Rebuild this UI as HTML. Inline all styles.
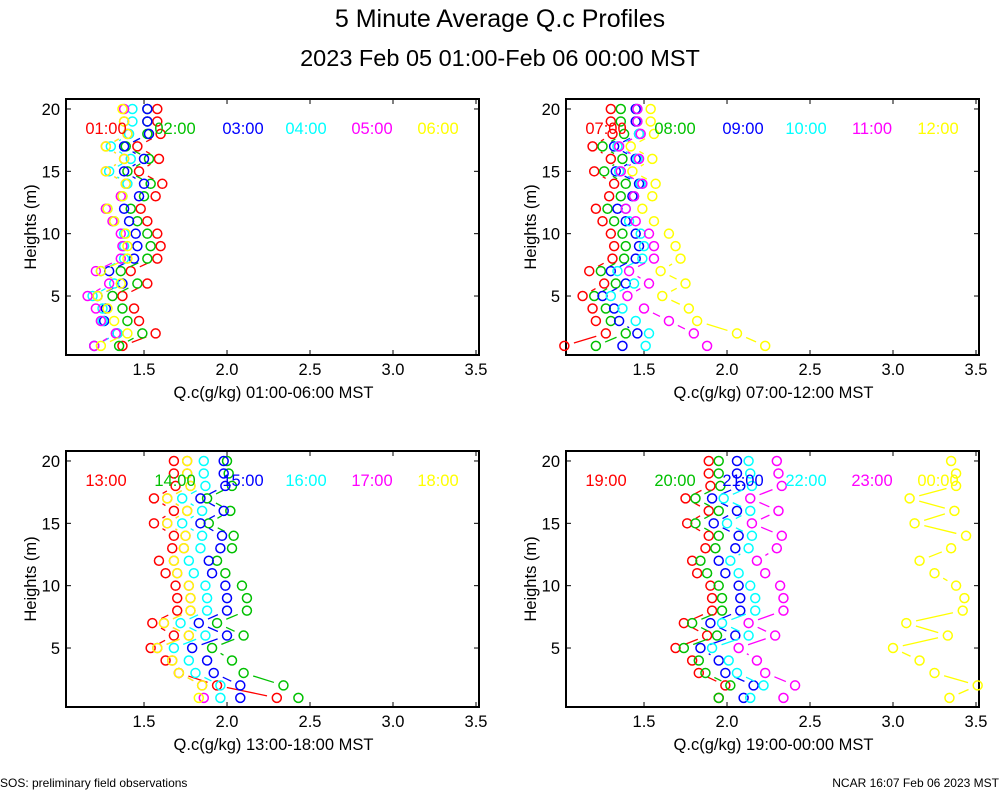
<!DOCTYPE html>
<html><head><meta charset="utf-8"><style>
html,body{margin:0;padding:0;background:#fff;}
svg{display:block;font-family:"Liberation Sans",sans-serif;}
</style></head><body>
<svg id="chart" width="1000" height="800" viewBox="0 0 1000 800" xmlns="http://www.w3.org/2000/svg">
<text x="500" y="27" font-size="25" text-anchor="middle">5 Minute Average Q.c Profiles</text>
<text x="500" y="66" font-size="23.5" text-anchor="middle">2023 Feb 05 01:00-Feb 06 00:00 MST</text>
<text x="0" y="787" font-size="12">SOS: preliminary field observations</text>
<text x="999" y="787" font-size="12" text-anchor="end">NCAR 16:07 Feb 06 2023 MST</text>
</svg>
<script>
const heights = [1,2,3,4,5,6,7,8,9,10,11,12,13,14,15,16,17,18,19,20];
const xTicks = [1.5,2.0,2.5,3.0,3.5];
const xTickLabels = ["1.5","2.0","2.5","3.0","3.5"];
const yTicks = [5,10,15,20];
const yTickLabels = ["5","10","15","20"];
const seriesColors = ["#ff0000","#00c000","#0000ff","#00ffff","#ff00ff","#ffff00"];
const panelTitles = ["Q.c(g/kg) 01:00-06:00 MST","Q.c(g/kg) 07:00-12:00 MST","Q.c(g/kg) 13:00-18:00 MST","Q.c(g/kg) 19:00-00:00 MST"];
const panelLabels = [["01:00","02:00","03:00","04:00","05:00","06:00"],["07:00","08:00","09:00","10:00","11:00","12:00"],["13:00","14:00","15:00","16:00","17:00","18:00"],["19:00","20:00","21:00","22:00","23:00","00:00"]];

const p1_0100 = [1.37,1.57,1.47,1.44,1.37,1.52,1.42,1.58,1.60,1.58,1.52,1.48,1.57,1.61,1.47,1.59,1.46,1.60,1.58,1.58];
const p1_0200 = [1.35,1.49,1.40,1.37,1.31,1.46,1.36,1.52,1.54,1.52,1.46,1.42,1.50,1.54,1.40,1.53,1.39,1.52,1.52,1.52];
const p1_0300 = [1.20,1.34,1.26,1.27,1.22,1.37,1.29,1.44,1.46,1.45,1.41,1.38,1.47,1.50,1.38,1.50,1.38,1.53,1.52,1.52];
const p1_0400 = [1.20,1.34,1.25,1.25,1.19,1.32,1.24,1.38,1.38,1.38,1.32,1.28,1.37,1.40,1.29,1.42,1.30,1.41,1.43,1.43];
const p1_0500 = [1.20,1.33,1.24,1.21,1.16,1.29,1.21,1.36,1.37,1.36,1.31,1.27,1.36,1.39,1.27,1.38,1.27,1.40,1.38,1.38];
const p1_0600 = [1.24,1.40,1.32,1.28,1.22,1.36,1.24,1.40,1.40,1.39,1.32,1.28,1.37,1.39,1.27,1.38,1.27,1.40,1.38,1.37];

const p2_0700 = [1.02,1.27,1.21,1.19,1.13,1.26,1.17,1.31,1.32,1.30,1.25,1.21,1.29,1.32,1.20,1.30,1.19,1.31,1.30,1.30];
const p2_0800 = [1.21,1.39,1.30,1.27,1.20,1.33,1.24,1.38,1.39,1.37,1.32,1.28,1.36,1.39,1.26,1.37,1.25,1.38,1.36,1.36];
const p2_0900 = [1.37,1.46,1.35,1.32,1.25,1.39,1.30,1.45,1.47,1.45,1.39,1.34,1.43,1.47,1.33,1.45,1.32,1.47,1.45,1.45];
const p2_1000 = [1.51,1.53,1.45,1.37,1.30,1.44,1.34,1.49,1.50,1.48,1.41,1.39,1.44,1.48,1.35,1.46,1.34,1.47,1.46,1.46];
const p2_1100 = [1.88,1.80,1.65,1.50,1.40,1.53,1.41,1.56,1.56,1.53,1.45,1.39,1.44,1.49,1.36,1.47,1.35,1.48,1.46,1.46];
const p2_1200 = [2.23,2.06,1.82,1.77,1.61,1.75,1.60,1.72,1.69,1.65,1.56,1.49,1.55,1.57,1.43,1.55,1.42,1.56,1.54,1.54];

const p3_1300 = [2.30,1.94,1.71,1.63,1.54,1.68,1.55,1.70,1.70,1.69,1.63,1.59,1.67,1.68,1.56,1.68,1.56,1.69,1.68,1.68];
const p3_1400 = [2.43,2.34,2.10,2.03,1.91,2.10,1.94,2.12,2.12,2.09,1.99,1.94,2.03,2.04,1.89,2.02,1.88,2.03,2.01,2.00];
const p3_1500 = [2.08,2.08,1.92,1.88,1.79,2.00,1.83,2.00,2.00,1.99,1.91,1.89,1.96,1.97,1.84,1.98,1.84,1.99,1.98,1.98];
const p3_1600 = [1.96,1.96,1.81,1.77,1.68,1.87,1.72,1.88,1.88,1.87,1.80,1.77,1.84,1.85,1.73,1.85,1.73,1.87,1.86,1.86];
const p3_1700 = [1.86,1.85,1.71,1.67,1.58,1.77,1.62,1.78,1.78,1.77,1.70,1.68,1.74,1.75,1.64,1.76,1.64,1.78,1.76,1.76];
const p3_1800 = [1.83,1.85,1.71,1.67,1.58,1.77,1.62,1.78,1.78,1.77,1.70,1.68,1.74,1.75,1.64,1.76,1.64,1.78,1.76,1.76];

const p4_1900 = [1.95,1.99,1.83,1.79,1.69,1.88,1.74,1.91,1.91,1.90,1.82,1.79,1.87,1.89,1.76,1.89,1.75,1.90,1.89,1.89];
const p4_2000 = [1.95,2.02,1.87,1.83,1.74,1.94,1.79,1.97,1.97,1.95,1.88,1.84,1.93,1.95,1.81,1.95,1.81,1.96,1.95,1.95];
const p4_2100 = [2.10,2.16,1.99,1.95,1.84,2.05,1.90,2.08,2.08,2.07,1.99,1.95,2.05,2.07,1.92,2.06,1.91,2.08,2.06,2.06];
const p4_2200 = [2.14,2.22,2.06,2.01,1.91,2.13,1.97,2.17,2.17,2.14,2.07,2.02,2.13,2.15,2.00,2.14,1.98,2.15,2.14,2.13];
const p4_2300 = [2.34,2.41,2.23,2.18,2.07,2.29,2.13,2.34,2.34,2.32,2.23,2.18,2.30,2.33,2.15,2.31,2.14,2.33,2.31,2.30];
const p4_0000 = [3.34,3.51,3.25,3.16,3.00,3.33,3.08,3.42,3.43,3.38,3.25,3.16,3.35,3.44,3.13,3.37,3.10,3.38,3.38,3.35];

const panelSeries = [
  [p1_0100,p1_0200,p1_0300,p1_0400,p1_0500,p1_0600],
  [p2_0700,p2_0800,p2_0900,p2_1000,p2_1100,p2_1200],
  [p3_1300,p3_1400,p3_1500,p3_1600,p3_1700,p3_1800],
  [p4_1900,p4_2000,p4_2100,p4_2200,p4_2300,p4_0000]
];

const NS = "http://www.w3.org/2000/svg";
const svg = document.getElementById("chart");
const X_MIN = 1.03, X_MAX = 3.518, Y_MIN = 0.27, Y_MAX = 20.8;
const PW = 413, PH = 256;
const origins = [[66,99],[566,99],[66,451],[566,451]];
const legendX = [106,175,243,306,372,438];

function mk(tag, attrs, parent) {
  const e = document.createElementNS(NS, tag);
  for (const k in attrs) e.setAttribute(k, attrs[k]);
  (parent || svg).appendChild(e);
  return e;
}

panelSeries.forEach((series, p) => {
  const ox = origins[p][0], oy = origins[p][1];
  const sx = v => ox + (v - X_MIN) / (X_MAX - X_MIN) * PW;
  const sy = h => oy + (Y_MAX - h) / (Y_MAX - Y_MIN) * PH;
  const g = mk("g", {});
  
  

  const frame = mk("rect", {x: ox, y: oy, width: PW, height: PH, fill: "none", stroke: "#000", "stroke-width": 2}, g);
  
  

  xTicks.forEach((t, i) => {
    const x = sx(t);
    mk("line", {x1: x, y1: oy + PH, x2: x, y2: oy + PH - 5, stroke: "#000", "stroke-width": 1}, g);
    mk("line", {x1: x, y1: oy, x2: x, y2: oy + 5, stroke: "#000", "stroke-width": 1}, g);
    const lbl = mk("text", {x: x, y: oy + PH + 20, "font-size": 16.5, "text-anchor": "middle"}, g);
    lbl.textContent = xTickLabels[i];
    
    
  });
  yTicks.forEach((t, i) => {
    const y = sy(t);
    mk("line", {x1: ox, y1: y, x2: ox + 5, y2: y, stroke: "#000", "stroke-width": 1}, g);
    mk("line", {x1: ox + PW, y1: y, x2: ox + PW - 5, y2: y, stroke: "#000", "stroke-width": 1}, g);
    const lbl = mk("text", {x: ox - 6, y: y + 6, "font-size": 16.5, "text-anchor": "end"}, g);
    lbl.textContent = yTickLabels[i];
    
    
  });
  const yt = mk("text", {x: 0, y: 0, "font-size": 16.5, "text-anchor": "middle", transform: "translate(" + (ox - 30) + "," + (oy + PH / 2) + ") rotate(-90)"}, g);
  yt.textContent = "Heights (m)";
  
  
  const xt = mk("text", {x: ox + PW / 2 + 1, y: oy + PH + 43, "font-size": 16.5, "text-anchor": "middle"}, g);
  xt.textContent = panelTitles[p];
  
  

  series.forEach((vals, s) => {
    const col = seriesColors[s];
    const sg = mk("g", {}, g);
    
    
    const pts = vals.map((v, i) => [sx(v), sy(heights[i])]);
    for (let i = 0; i < pts.length - 1; i++) {
      const [x1, y1] = pts[i], [x2, y2] = pts[i + 1];
      const d = Math.hypot(x2 - x1, y2 - y1);
      const gap = 10;
      if (d <= 2 * gap + 1) continue;
      const ux = (x2 - x1) / d, uy = (y2 - y1) / d;
      const seg = mk("line", {x1: x1 + ux * gap, y1: y1 + uy * gap, x2: x2 - ux * gap, y2: y2 - uy * gap, stroke: col, "stroke-width": 1.3}, sg);
      
      
    }
    pts.forEach(([x, y]) => {
      const c = mk("circle", {cx: x, cy: y, r: 4.5, fill: "none", stroke: col, "stroke-width": 1.5}, sg);
      
      
    });
  });

  panelLabels[p].forEach((lab, s) => {
    const t = mk("text", {x: legendX[s] + (ox - 66), y: oy + 35, "font-size": 16.5, "text-anchor": "middle", fill: seriesColors[s]}, g);
    t.textContent = lab;
    
    
  });
});
</script>
</body></html>
